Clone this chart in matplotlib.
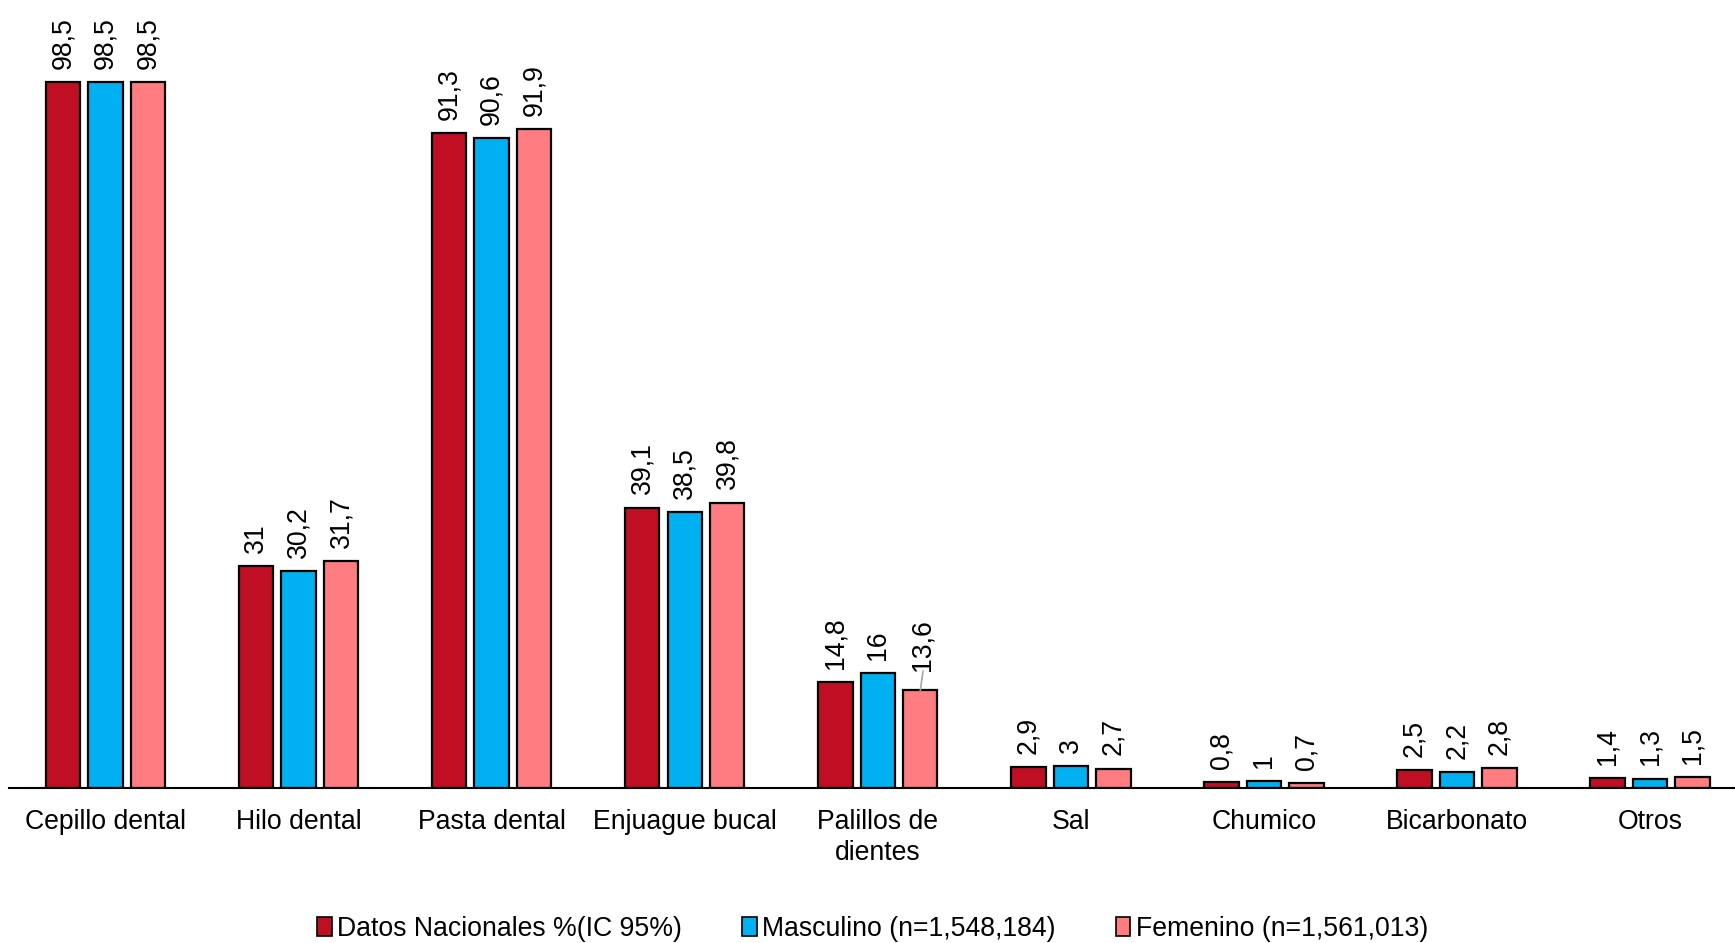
import matplotlib
matplotlib.use("Agg")
import matplotlib.pyplot as plt
import numpy as np
from matplotlib.patches import Patch

plt.rcParams['font.family'] = ['Liberation Sans', 'DejaVu Sans']

categories = ["Cepillo dental", "Hilo dental", "Pasta dental", "Enjuague bucal",
              "Palillos de\ndientes", "Sal", "Chumico", "Bicarbonato", "Otros"]
nacional = [98.5, 31, 91.3, 39.1, 14.8, 2.9, 0.8, 2.5, 1.4]
masculino = [98.5, 30.2, 90.6, 38.5, 16, 3, 1, 2.2, 1.3]
femenino = [98.5, 31.7, 91.9, 39.8, 13.6, 2.7, 0.7, 2.8, 1.5]
series_names = ["Datos Nacionales %(IC 95%)", "Masculino (n=1,548,184)", "Femenino (n=1,561,013)"]
colors = ["#C00F23", "#00B0F0", "#FF7C80"]

W, H = 1735, 943
fig = plt.figure(figsize=(W/100, H/100), dpi=100)
ax_left = 9 / W
ax_bottom = (H - 788) / H
ax = fig.add_axes([ax_left, ax_bottom, 1 - ax_left, 788 / H])

x = np.arange(len(categories))
step = 0.22
bw = 0.178
fs = 19.2

def fmt(v):
    return ("%g" % v).replace(".", ",")

for i, (vals, c) in enumerate(zip([nacional, masculino, femenino], colors)):
    pos = x + (i - 1) * step
    ax.bar(pos, vals, width=bw, color=c, edgecolor="black", linewidth=1.6, zorder=3)
    for j, (p, v) in enumerate(zip(pos, vals)):
        if i == 2 and j == 4:
            ax.annotate("", xy=(p, v), xytext=(2, 14), textcoords='offset points',
                        arrowprops=dict(arrowstyle='-', color='#A6A6A6', lw=1.2,
                                        shrinkA=0, shrinkB=0))
            ax.annotate(fmt(v), xy=(p, v), xytext=(1.5, 14), textcoords='offset points',
                        rotation=90, ha='center', va='bottom', fontsize=fs)
        else:
            ax.annotate(fmt(v), xy=(p, v), xytext=(0, 9.5), textcoords='offset points',
                        rotation=90, ha='center', va='bottom', fontsize=fs)

ax.set_xlim(-0.5, 8.44)
ax.set_ylim(0, 109.9)
ax.set_yticks([])
ax.set_xticks(x)
ax.set_xticklabels(categories, fontsize=fs, linespacing=1.25)
ax.tick_params(axis='x', length=0, pad=15)
for s in ['top', 'right', 'left']:
    ax.spines[s].set_visible(False)
ax.spines['bottom'].set_linewidth(1.5)
ax.spines['bottom'].set_zorder(4)
ax.patch.set_alpha(0)

handles = [Patch(facecolor=c, edgecolor='black', linewidth=1.2) for c in colors]
fig.legend(handles, series_names, loc='center', bbox_to_anchor=(0.503, 1 - 929 / H),
           ncol=3, frameon=False, fontsize=fs, handlelength=0.55, handleheight=0.7,
           handletextpad=0.2, columnspacing=2.25, borderaxespad=0)

fig.savefig("out.png", dpi=100)
